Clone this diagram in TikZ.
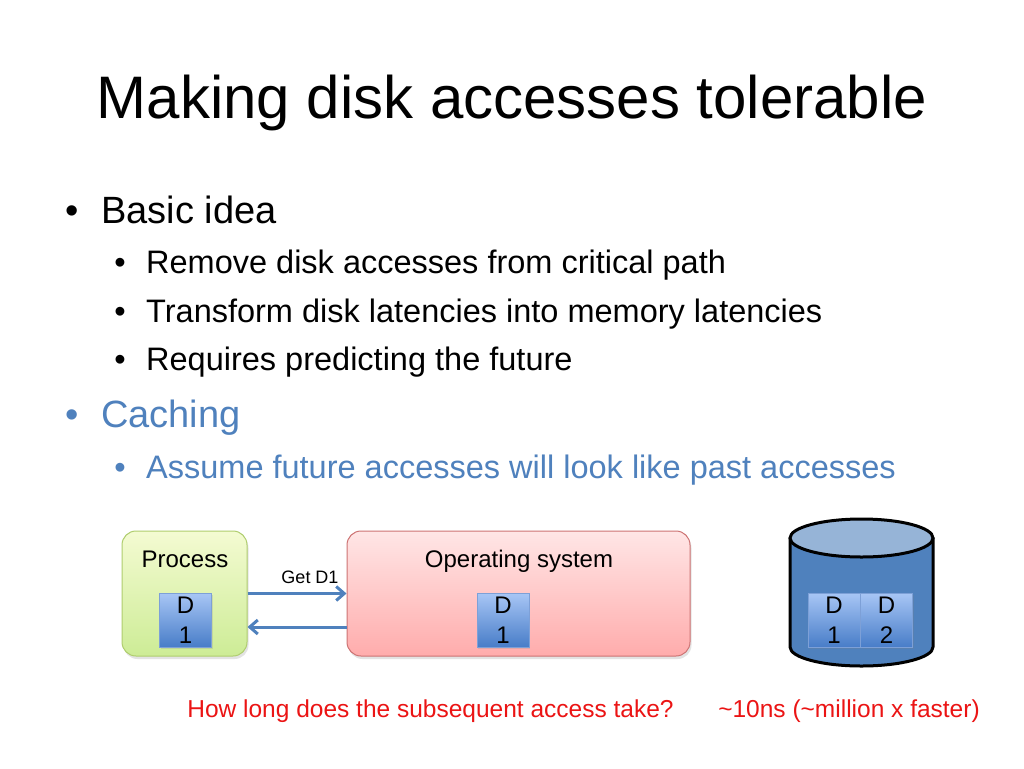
\documentclass[tikz,border=0pt]{standalone}
\usepackage{fontspec}
\setmainfont{Liberation Sans}
\usetikzlibrary{arrows.meta,shadows}
\definecolor{txtblue}{RGB}{79,129,189}
\definecolor{txtred}{RGB}{235,20,20}
\definecolor{procborder}{RGB}{175,205,110}
\definecolor{proctop}{RGB}{244,251,210}
\definecolor{procbot}{RGB}{205,236,150}
\definecolor{osborder}{RGB}{205,115,115}
\definecolor{ostop}{RGB}{255,230,230}
\definecolor{osbot}{RGB}{255,172,172}
\definecolor{dtop}{RGB}{168,198,245}
\definecolor{dbot}{RGB}{72,125,200}
\definecolor{dborder}{RGB}{125,160,215}
\definecolor{cylbody}{RGB}{79,129,189}
\definecolor{cyltop}{RGB}{150,180,215}
\definecolor{arrcol}{RGB}{79,129,189}
\begin{document}
\begin{tikzpicture}[x=1pt,y=-1pt,
  txt/.style={inner sep=0pt, anchor=base west},
  bul/.style={inner sep=0pt, anchor=base},
  lvlone/.style={font=\fontsize{38}{44}\selectfont},
  lvltwo/.style={font=\fontsize{32.5}{38}\selectfont},
  bigbox/.style={rounded corners=14pt, line width=1pt, minimum height=125pt,
     drop shadow={shadow xshift=1.5pt, shadow yshift=-3pt, opacity=0.22}},
  procbox/.style={bigbox, draw=procborder, top color=proctop, bottom color=procbot, minimum width=125pt},
  osbox/.style={bigbox, draw=osborder, top color=ostop, bottom color=osbot, minimum width=343pt},
  dbox/.style={draw=dborder, line width=0.6pt, top color=dtop, bottom color=dbot,
     minimum width=52pt, minimum height=54pt, inner sep=0pt, align=center,
     font=\fontsize{24}{30}\selectfont,
     drop shadow={shadow xshift=1pt, shadow yshift=-1.5pt, opacity=0.2}},
  boxlabel/.style={inner sep=0pt, anchor=base, font=\fontsize{24}{28}\selectfont},
  arr/.style={draw=arrcol, line width=3pt, -{Straight Barb[length=8pt,width=14pt,line width=3pt]}},
  redtxt/.style={inner sep=0pt, anchor=base, text=txtred, font=\fontsize{24.5}{28}\selectfont}
]
\useasboundingbox (0,0) rectangle (1024,768);
\fill[white] (0,0) rectangle (1024,768);

% title
\node[inner sep=0pt, anchor=base, font=\fontsize{60}{70}\selectfont] (title) at (512,118) {Making disk accesses tolerable};

% bullets
\node[bul, lvlone] (b1) at (72,223) {•};
\node[txt, lvlone] (t1) at (101,223) {Basic idea};
\node[bul, lvltwo] (b11) at (120,273) {•};
\node[txt, lvltwo] (t11) at (146,273) {Remove disk accesses from critical path};
\node[bul, lvltwo] (b12) at (120,322) {•};
\node[txt, lvltwo] (t12) at (146,322) {Transform disk latencies into memory latencies};
\node[bul, lvltwo] (b13) at (120,370) {•};
\node[txt, lvltwo] (t13) at (146,370) {Requires predicting the future};
\node[bul, lvlone, text=txtblue] (b2) at (72,427) {•};
\node[txt, lvlone, text=txtblue] (t2) at (101,427) {Caching};
\node[bul, lvltwo, text=txtblue] (b21) at (120,478) {•};
\node[txt, lvltwo, text=txtblue] (t21) at (146,478) {Assume future accesses will look like past accesses};

% process and OS
\node[procbox] (proc) at (184.5,593.5) {};
\node[boxlabel] (proclbl) at (185,567) {Process};
\node[dbox] (pd1) at (185.5,620) {D\\1};

\node[osbox] (os) at (518.5,593.5) {};
\node[boxlabel] (oslbl) at (519,567) {Operating system};
\node[dbox] (osd1) at (503,620) {D\\1};

% arrows
\draw[arr] (proc.east) -- (os.west);
\draw[arr] ([yshift=-33.5pt]os.west) -- ([yshift=-33.5pt]proc.east);
\node[inner sep=0pt, anchor=base, font=\fontsize{18}{20}\selectfont] (get) at (310,583) {Get D1};

% disk
\path[fill=cylbody, draw=black, line width=3pt, line join=round]
  (790,538) -- (790,647) arc[start angle=180, end angle=360, x radius=71.5pt, y radius=19pt] -- (933,538) -- cycle;
\draw[fill=cyltop, line width=3pt] (861.5,538) ellipse[x radius=71.5pt, y radius=19pt];
\node[dbox] (dd1) at (834,620) {D\\1};
\node[dbox] (dd2) at (886.5,620) {D\\2};

% question
\node[redtxt] (q) at (430.5,717) {How long does the subsequent access take?};
\node[redtxt] (a) at (849,717) {\textasciitilde10ns (\textasciitilde million x faster)};
\end{tikzpicture}
\end{document}
